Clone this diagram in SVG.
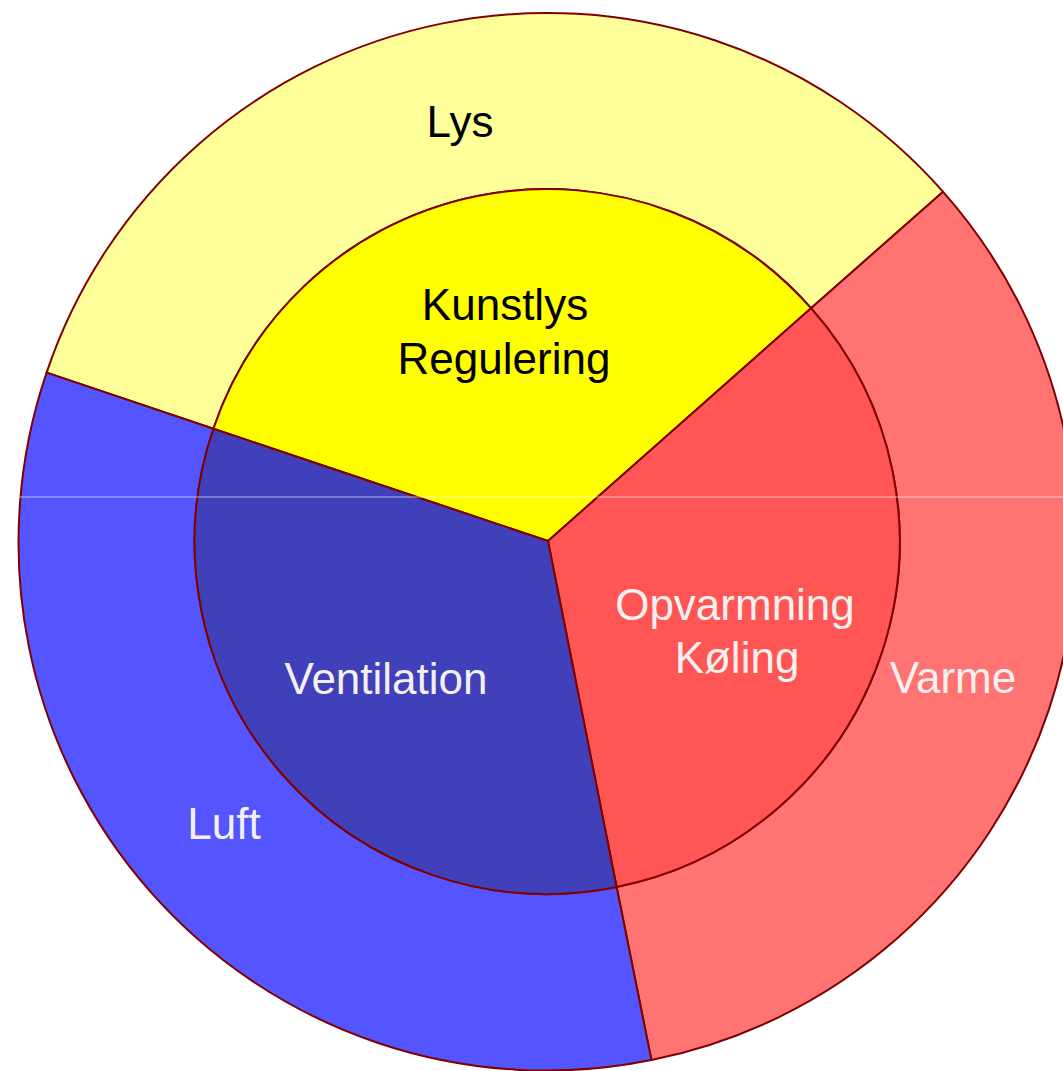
<svg xmlns="http://www.w3.org/2000/svg" width="1063" height="1071" viewBox="0 0 1063 1071">
  <style>
    .seg { stroke: #800000; stroke-width: 2; stroke-linejoin: round; }
    .lbl { font-family: "Liberation Sans", Arial, sans-serif; font-size: 44px; text-anchor: middle; }
    .dark { fill: #000000; }
    .light { fill: #F4F0F0; }
  </style>
  <rect width="1063" height="1071" fill="#FFFFFF"/>
  <g id="ring-outer">
    <g id="node-lys">
      <path class="seg" fill="#FFFF99" d="M46.6,372.6 A528,528 0 0 1 943.1,191.8 L811.0,308.2 A352,352 0 0 0 213.4,428.7 Z"/>
      <text class="lbl dark" x="460" y="137">Lys</text>
    </g>
    <g id="node-varme">
      <path class="seg" fill="#FF7373" d="M943.1,191.8 A528,528 0 0 1 651.4,1060 L616.6,887 A352,352 0 0 0 811.0,308.2 Z"/>
      <text class="lbl light" x="953" y="693">Varme</text>
    </g>
    <g id="node-luft">
      <path class="seg" fill="#5555FF" d="M651.4,1060 A528,528 0 0 1 46.6,372.6 L213.4,428.7 A352,352 0 0 0 616.6,887 Z"/>
      <text class="lbl light" x="224" y="839">Luft</text>
    </g>
  </g>
  <g id="ring-inner">
    <g id="node-kunstlys">
      <path class="seg" fill="#FFFF00" d="M548,541 L213.4,428.7 A352,352 0 0 1 811.0,308.2 Z"/>
      <text class="lbl dark" x="505" y="320">Kunstlys</text>
      <text class="lbl dark" x="504" y="374">Regulering</text>
    </g>
    <g id="node-opvarmning">
      <path class="seg" fill="#FF5555" d="M548,541 L811.0,308.2 A352,352 0 0 1 616.6,887 Z"/>
      <text class="lbl light" x="735" y="620">Opvarmning</text>
      <text class="lbl light" x="737" y="673">Køling</text>
    </g>
    <g id="node-ventilation">
      <path class="seg" fill="#4040BB" d="M548,541 L616.6,887 A352,352 0 0 1 213.4,428.7 Z"/>
      <text class="lbl light" x="386" y="694">Ventilation</text>
    </g>
  </g>
  <g id="connectors"></g>
  <line x1="0" y1="497" x2="1063" y2="497" stroke="#FFFFFF" stroke-width="1" stroke-opacity="0.6"/>
</svg>
